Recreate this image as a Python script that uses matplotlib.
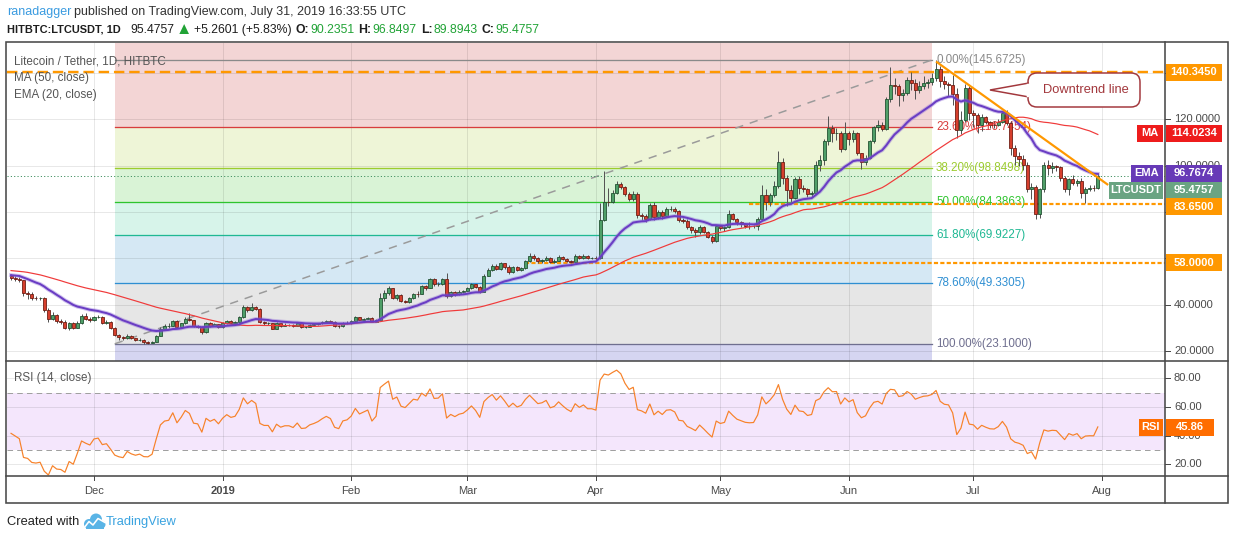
import numpy as np
import pandas as pd
import matplotlib
matplotlib.use("Agg")
import matplotlib.pyplot as plt
from matplotlib import font_manager
from matplotlib.patches import Rectangle, FancyBboxPatch, Polygon, Circle
from matplotlib.lines import Line2D
from matplotlib.transforms import IdentityTransform

# ---------------- data (LTC/USDT daily) ----------------
# closes before the visible window, only used to warm up MA50 / EMA20 / RSI14
warmup_close = [59.5, 58.8, 57.2, 56.4, 57.5, 60.2, 61.2, 60.6, 61.5,
                60.5, 59.8, 58.5, 58.9, 58.3, 57.6, 57.9, 59.0, 58.1, 57.8,
                52.3, 52.5, 52.8, 52.6, 54.2, 53.9, 52.7, 52.0, 51.8, 52.3,
                52.1, 51.9, 52.2, 52.3, 51.6, 51.8, 51.5, 51.6, 49.9, 50.5, 51.2,
                51.6, 52.5, 51.9, 54.6, 54.3, 54.5, 54.8, 52.1, 51.9, 52.6]

nov_c = [51.5, 51.0, 50.5, 45.2, 44.8, 43.0, 42.7, 42.8, 37.6, 34.0, 35.5, 32.9, 32.5, 30.0, 31.9, 30.0, 32.2, 35.0, 34.0, 33.2]
nov_h = [53.2, 52.3, 51.8, 50.8, 46.0, 45.5, 43.8, 43.5, 43.2, 38.5, 37.0, 36.0, 33.8, 33.5, 32.5, 32.5, 33.0, 35.8, 36.2, 34.6]
nov_l = [50.8, 50.4, 49.6, 43.6, 42.5, 42.1, 41.9, 42.0, 37.0, 32.5, 33.2, 32.0, 31.6, 29.6, 29.0, 29.4, 29.8, 31.8, 33.2, 32.6]

dec_c = [34.6, 34.8, 32.2, 32.4, 30.0, 26.9, 25.9, 25.4, 26.6, 25.4, 24.7, 24.9, 23.7, 23.6, 24.0, 26.6, 29.7, 30.7, 30.9, 32.9,
         30.4, 31.9, 34.0, 33.3, 30.7, 30.5, 28.0, 31.9, 31.0, 31.6, 30.3]
dec_h = [35.2, 35.6, 35.0, 33.2, 32.8, 30.5, 27.2, 26.4, 27.2, 27.0, 25.8, 25.5, 25.2, 24.2, 24.5, 27.0, 30.3, 31.8, 32.0, 33.6,
         33.4, 32.3, 34.6, 36.3, 33.5, 31.2, 30.8, 32.4, 32.4, 32.0, 31.8]
dec_l = [33.0, 34.2, 31.8, 31.8, 29.6, 26.3, 24.6, 24.8, 25.2, 25.0, 24.3, 24.2, 23.2, 23.1, 23.4, 23.8, 26.3, 29.3, 30.0, 30.6,
         30.0, 30.1, 31.6, 33.0, 30.2, 29.8, 27.5, 27.8, 30.4, 30.8, 29.8]

jan_c = [31.9, 33.0, 32.3, 32.6, 34.6, 39.0, 37.6, 39.0, 38.3, 32.6, 31.9, 31.9, 29.7, 31.9, 30.9, 31.3, 31.3, 30.8, 31.9, 30.4,
         30.5, 31.2, 31.5, 31.9, 32.5, 33.0, 32.6, 30.9, 30.6, 32.0, 32.2]
jan_h = [32.4, 33.6, 33.4, 33.0, 35.3, 40.0, 39.6, 40.7, 39.6, 38.6, 33.0, 32.4, 32.2, 32.4, 32.2, 31.9, 31.8, 31.6, 32.2, 32.2,
         31.0, 31.8, 32.0, 32.3, 32.9, 33.6, 33.4, 32.8, 31.3, 32.4, 32.8]
jan_l = [29.9, 31.5, 31.8, 31.9, 32.3, 34.4, 37.0, 37.3, 37.8, 32.0, 31.2, 31.4, 29.4, 29.7, 30.5, 30.6, 30.7, 30.4, 30.6, 30.0,
         30.1, 30.2, 31.0, 31.3, 31.6, 32.1, 32.1, 30.5, 30.1, 30.4, 31.8]

feb_c = [32.9, 34.5, 33.6, 34.0, 34.4, 32.6, 33.5, 43.0, 45.0, 47.0, 42.9, 44.0, 41.6, 41.2, 42.9, 44.8, 44.6, 47.9, 47.2, 51.2,
         48.8, 49.0, 51.2, 43.7, 45.3, 44.5, 45.5, 45.9]
feb_h = [33.3, 35.0, 34.6, 34.4, 34.8, 34.5, 33.9, 45.1, 46.5, 48.0, 47.2, 44.5, 44.4, 42.1, 43.4, 45.2, 45.7, 48.6, 48.5, 51.7,
         51.4, 50.0, 51.6, 53.6, 45.9, 45.8, 46.3, 46.2]
feb_l = [31.8, 32.7, 33.3, 33.3, 33.9, 32.4, 32.5, 33.2, 41.4, 44.2, 42.5, 42.2, 41.1, 40.6, 40.8, 42.6, 43.5, 44.4, 46.5, 47.0,
         47.9, 47.9, 48.6, 42.8, 43.4, 43.8, 44.0, 45.0]

mar_c = [47.2, 48.9, 47.6, 45.5, 52.6, 55.0, 56.9, 55.2, 57.8, 56.2, 54.3, 56.2, 55.0, 55.8, 58.8, 61.2, 60.0, 58.8, 59.2, 60.3,
         58.3, 58.9, 60.8, 59.8, 58.9, 58.3, 61.2, 60.3, 61.2, 60.3, 60.3]
mar_h = [47.6, 49.5, 49.1, 48.0, 53.3, 55.7, 57.5, 57.6, 58.4, 58.1, 57.0, 56.8, 56.5, 56.3, 59.2, 62.4, 61.7, 60.4, 59.8, 61.1,
         60.6, 59.6, 61.5, 61.0, 60.1, 59.2, 61.8, 61.6, 61.7, 61.3, 60.8]
mar_l = [45.7, 46.8, 47.1, 45.1, 45.3, 52.2, 54.6, 54.8, 54.9, 55.5, 53.4, 53.6, 54.6, 54.5, 55.6, 58.5, 59.5, 58.0, 58.2, 58.8,
         57.8, 58.1, 58.7, 59.3, 58.4, 57.9, 58.1, 59.7, 59.9, 59.9, 59.9]

apr_c = [60.0, 76.7, 84.5, 84.2, 88.1, 92.0, 90.9, 87.9, 85.8, 87.8, 78.7, 78.1, 77.0, 83.1, 77.7, 80.1, 78.4, 81.2, 81.5, 80.5,
         76.5, 76.2, 73.4, 72.4, 71.2, 73.5, 71.6, 69.4, 67.3, 74.1]
apr_h = [61.0, 84.0, 97.7, 90.5, 89.5, 93.5, 93.0, 91.2, 88.6, 89.0, 88.6, 79.8, 79.2, 83.9, 84.2, 80.8, 81.1, 82.1, 82.4, 82.2,
         81.0, 77.4, 77.0, 73.8, 73.0, 74.2, 73.9, 71.8, 70.2, 74.6]
apr_l = [59.0, 59.8, 76.0, 82.7, 83.9, 87.6, 90.0, 86.9, 84.8, 84.7, 77.3, 76.6, 75.9, 76.4, 76.6, 77.2, 77.2, 78.0, 80.5, 79.6,
         75.9, 75.2, 72.6, 71.0, 69.3, 70.5, 71.0, 68.9, 66.5, 67.2]

may_c = [72.9, 73.4, 79.1, 77.2, 75.5, 74.8, 74.1, 73.9, 74.0, 77.0, 87.2, 84.5, 87.2, 91.2, 101.5, 94.8, 89.4, 86.2, 94.1, 90.5,
         90.1, 87.7, 88.4, 100.3, 102.4, 110.6, 116.3, 114.1, 114.3, 107.3, 114.0]
may_h = [74.6, 73.8, 80.9, 79.8, 77.5, 76.3, 75.2, 75.5, 74.6, 77.8, 91.5, 89.8, 88.1, 93.5, 106.5, 103.3, 96.1, 91.5, 95.2, 95.6,
         91.6, 90.5, 89.3, 102.0, 104.8, 111.4, 121.3, 117.8, 116.1, 114.9, 119.0]
may_l = [72.3, 72.0, 73.0, 76.4, 74.2, 73.4, 73.0, 72.8, 73.1, 72.3, 76.5, 81.0, 82.5, 86.6, 90.5, 92.1, 82.7, 84.2, 85.8, 87.9,
         88.6, 86.4, 86.6, 87.9, 97.9, 100.2, 108.8, 110.2, 111.0, 106.0, 106.6]

jun_c = [111.6, 114.0, 105.6, 101.8, 103.4, 110.6, 116.6, 117.7, 116.0, 128.7, 134.9, 134.6, 130.6, 131.6, 137.0, 135.6, 132.7,
         134.5, 135.9, 136.3, 137.7, 141.8, 136.7, 135.2, 134.9, 130.9, 115.6, 119.9, 133.4, 122.7]
jun_h = [114.8, 115.3, 114.5, 105.7, 104.8, 111.2, 117.3, 119.8, 118.8, 129.5, 142.7, 137.8, 135.4, 133.2, 138.2, 140.3, 137.3,
         136.6, 138.6, 137.6, 140.0, 145.6725, 142.9, 138.9, 136.3, 139.0, 133.6, 123.6, 135.2, 134.5]
jun_l = [109.0, 110.2, 104.8, 98.5, 100.3, 102.8, 110.0, 115.0, 114.8, 115.5, 127.6, 130.8, 125.6, 128.0, 130.6, 132.5, 129.0,
         131.4, 133.0, 133.4, 134.8, 136.5, 134.2, 133.0, 130.0, 126.4, 112.0, 113.8, 119.0, 119.7]

jul_c = [122.0, 117.7, 120.9, 119.1, 117.7, 117.5, 119.1, 122.7, 118.4, 107.7, 104.0, 102.7, 100.5, 89.8, 90.8, 79.1, 89.8,
         100.5, 99.1, 99.8, 99.5, 94.8, 89.8, 94.1, 92.4, 93.5, 88.4, 90.1, 90.3, 90.2351, 95.4757]
jul_h = [124.0, 122.6, 122.2, 121.5, 119.5, 119.2, 120.2, 123.4, 124.0, 119.5, 108.8, 105.8, 104.5, 101.4, 92.6, 91.6, 90.6,
         101.8, 102.6, 101.8, 100.5, 99.8, 95.6, 94.6, 95.9, 94.3, 94.8, 90.9, 91.7, 91.6, 96.8497]
jul_l = [116.8, 114.3, 115.2, 118.0, 116.3, 116.4, 117.0, 118.3, 117.4, 104.6, 100.2, 99.8, 98.2, 88.6, 85.7, 77.0, 77.5,
         88.8, 96.0, 97.0, 97.8, 93.4, 88.6, 87.2, 91.6, 91.2, 86.0, 84.1, 89.2, 88.9, 89.8943]

first_day = "2018-11-11"
last_day = "2019-07-31"

# drawings on the chart
fib_high, fib_low = 145.6725, 23.1
fib_start, fib_end = "2018-12-06", "2019-06-21"
fib_levels = [0.0, 0.236, 0.382, 0.5, 0.618, 0.786, 1.0]
hline_top = 140.345
support_1, support_1_from = 83.65, "2019-05-08"
support_2, support_2_from = 58.0, "2019-03-15"
trend_dates = ["2019-06-22", "2019-08-02 12:00"]
trend_prices = [145.0, 91.7]
ma_last, ema_last = 114.0234, 96.7674
rsi_last = 45.86

months = ["2018-12-01", "2019-01-01", "2019-02-01", "2019-03-01", "2019-04-01",
          "2019-05-01", "2019-06-01", "2019-07-01", "2019-08-01"]
month_labels = ["Dec", "2019", "Feb", "Mar", "Apr", "May", "Jun", "Jul", "Aug"]
price_ticks = [20, 40, 60, 80, 100, 120, 140]
price_tick_labels = ["20.0000", "40.0000", "", "80.0000", "100.0000", "120.0000", ""]  # 60/140 hidden by tags
rsi_ticks = [20, 40, 60, 80]

# ---------------- series ----------------
close_vis = nov_c + dec_c + jan_c + feb_c + mar_c + apr_c + may_c + jun_c + jul_c
high_vis = nov_h + dec_h + jan_h + feb_h + mar_h + apr_h + may_h + jun_h + jul_h
low_vis = nov_l + dec_l + jan_l + feb_l + mar_l + apr_l + may_l + jun_l + jul_l
dates = pd.date_range(first_day, last_day, freq="D")
n = len(dates)
assert len(close_vis) == n and len(high_vis) == n and len(low_vis) == n

s = pd.Series(warmup_close + close_vis, dtype=float)
ma50 = s.rolling(50).mean().values[-n:]
ema20 = s.ewm(span=20, adjust=False).mean().values[-n:]
delta = s.diff()
gain = delta.clip(lower=0).ewm(alpha=1 / 14, adjust=False).mean()
loss = (-delta.clip(upper=0)).ewm(alpha=1 / 14, adjust=False).mean()
rsi = (100 - 100 / (1 + gain / loss)).values[-n:]

c = np.array(close_vis)
o = s.shift(1).values[-n:]
hi = np.maximum(np.array(high_vis), np.maximum(o, c))
lo = np.minimum(np.array(low_vis), np.minimum(o, c))

origin = pd.Timestamp("2018-12-01")
def dnum(t):
    return (pd.Timestamp(t) - origin) / pd.Timedelta(days=1)
x = np.array([dnum(t) for t in dates])

# ---------------- fonts ----------------
names = {f.name for f in font_manager.fontManager.ttflist}
if "Liberation Sans Narrow" in names:
    FAM, K = ["Liberation Sans Narrow", "DejaVu Sans"], 1.0
else:
    FAM, K = ["Liberation Sans", "DejaVu Sans"], 0.84
plt.rcParams["font.family"] = FAM
plt.rcParams["lines.scale_dashes"] = False

W, H = 1234, 540
fig = plt.figure(figsize=(W / 100, H / 100), dpi=100)
fig.patch.set_facecolor("white")

def axes_px(x0, y0, x1, y1):
    return fig.add_axes([x0 / W, 1 - y1 / H, (x1 - x0) / W, (y1 - y0) / H])

PX = 0.72  # points per pixel
XL = ((7 - 94) / 4.148, (1165 - 94) / 4.148)

ax = axes_px(7, 43, 1165, 361)
rx = axes_px(7, 361, 1165, 476)
for a in (ax, rx):
    a.set_xlim(*XL)
    a.set_xticks([dnum(m) for m in months])
    a.tick_params(length=0, labelbottom=False, labelleft=False)
    a.grid(True, color="black", alpha=0.09, lw=1 * PX)
    a.set_axisbelow(True)
    for sp in a.spines.values():
        sp.set_visible(False)
ax.set_ylim(15.68, 153.0)
ax.set_yticks(price_ticks)
rx.set_ylim(11.8, 92.1)
rx.set_yticks(rsi_ticks)

# ---------------- fibonacci retracement ----------------
fx0, fx1 = dnum(fib_start), dnum(fib_end)
fib_price = [fib_high - l * (fib_high - fib_low) for l in fib_levels]
fib_line_col = ["#8a8a8a", "#d83c3c", "#9ccc2e", "#2ec42e", "#1fb893", "#2f8fd2", "#6f6f8f"]
fib_fill_col = ["#f3d5d5", "#eef5d7", "#d9f3d6", "#d7f4ea", "#d5e8f4", "#e6e6e6"]
ax.fill_between([fx0, fx1], fib_price[0], 300, color="#f3d5d5", lw=0, zorder=0.2)
for i in range(len(fib_levels) - 1):
    ax.fill_between([fx0, fx1], fib_price[i + 1], fib_price[i], color=fib_fill_col[i], lw=0, zorder=0.2)
ax.fill_between([fx0, fx1], -50, fib_low, color="#d5d5f1", lw=0, zorder=0.2)
for lvl, p, col in zip(fib_levels, fib_price, fib_line_col):
    ax.plot([fx0, fx1], [p, p], color=col, lw=1.3 * PX, zorder=1)
    ax.text(fx1 + 1.0, p, "%.2f%%(%.4f)" % (lvl * 100, round(p + 1e-9, 4)), color=col,
            fontsize=10 * K, va="center", ha="left", zorder=1.2)
ax.plot([fx0, fx1], [fib_low, fib_high], color="#9a9a9a", lw=1.5 * PX, dashes=(6, 5), zorder=1.1)

# ---------------- horizontal levels / trend line ----------------
ax.plot(XL, [hline_top, hline_top], color="#ff9800", lw=2.4 * PX, dashes=(7.5, 3.5), zorder=2.5)
ax.plot([dnum(support_1_from), XL[1]], [support_1, support_1], color="#ff9800", lw=2.2 * PX,
        dashes=(3, 1.6), zorder=2.5)
ax.plot([dnum(support_2_from), XL[1]], [support_2, support_2], color="#ff9800", lw=2.2 * PX,
        dashes=(3, 1.6), zorder=2.5)
ax.plot(XL, [c[-1], c[-1]], color="#3f8f5f", lw=1 * PX, dashes=(0.8, 1.6), zorder=2.4)
ax.plot([dnum(t) for t in trend_dates], trend_prices, color="#ff9800", lw=2.2 * PX, zorder=5,
        solid_capstyle="butt")

# ---------------- candles & averages ----------------
up = c >= o
ax.vlines(x, lo, hi, color="#555555", lw=1 * PX, zorder=3)
ax.bar(x[up], (c - o)[up], bottom=o[up], width=0.74, color="#4f9f68", edgecolor="#1e4d2e",
       lw=0.8 * PX, zorder=3.5)
ax.bar(x[~up], (c - o)[~up], bottom=o[~up], width=0.74, color="#d63f2d", edgecolor="#6a1a10",
       lw=0.8 * PX, zorder=3.5)
ax.plot(x, ma50, color="#f03a3a", lw=1.2 * PX, zorder=4)
ax.plot(x, ema20, color="#8c6ad6", lw=4.0 * PX, alpha=0.4, zorder=4.4)
ax.plot(x, ema20, color="#6a3dc4", lw=2.0 * PX, zorder=4.5)

# ---------------- RSI ----------------
rx.axhspan(30, 70, color="#f4e6fc", lw=0, zorder=0.2)
for v in (30, 70):
    rx.plot(XL, [v, v], color="#a0a0a0", lw=1 * PX, dashes=(4, 3), zorder=1)
rx.plot(x, rsi, color="#f7822a", lw=1.2 * PX, zorder=3)

# ---------------- helpers in pixel space ----------------
def ypx(axis, v):
    return H - axis.transData.transform((0, v))[1]

def xpx(axis, v):
    return axis.transData.transform((v, 0))[0]

def prect(x0, y0, x1, y1, **kw):
    fig.add_artist(Rectangle((x0, H - y1), x1 - x0, y1 - y0, transform=IdentityTransform(), **kw))

def pline(xs, ys, **kw):
    fig.add_artist(Line2D(xs, [H - y for y in ys], transform=IdentityTransform(), **kw))

def ptext(x0, y0, txt, **kw):
    return fig.text(x0 / W, 1 - y0 / H, txt, **kw)

def tag(x0, x1, yc, txt, col, h=17, fs=9.5):
    prect(x0, yc - h / 2, x1, yc + h / 2, fc=col, ec="none", zorder=6)
    ptext((x0 + x1) / 2, yc, txt, color="white", fontsize=fs * K, fontweight="bold",
          ha="center", va="center", zorder=7)

def seq(x0, y0, parts, fs):
    r = fig.canvas.get_renderer()
    for txt, col, wt, gap, scale in parts:
        t = ptext(x0, y0, txt, color=col, fontweight=wt, fontsize=fs * K * scale, ha="left", va="center")
        x0 += t.get_window_extent(renderer=r).width + gap

# frame and separators
prect(6, 42, 1228, 503, fc="none", ec="#4a4a4a", lw=1.6 * PX, zorder=8)
pline([6, 1228], [361, 361], color="#4a4a4a", lw=1.6 * PX, zorder=8)
pline([6, 1228], [476, 476], color="#4a4a4a", lw=1.6 * PX, zorder=8)
pline([1165, 1165], [42, 503], color="#4a4a4a", lw=1.6 * PX, zorder=8)

# price scale
for p, lab in zip(price_ticks, price_tick_labels):
    yy = ypx(ax, p)
    pline([1165, 1170], [yy, yy], color="#4a4a4a", lw=1 * PX, zorder=4)
    if lab:
        ptext(1174, yy, lab, color="#4a4a4a", fontsize=9.5 * K, va="center", ha="left", zorder=4)
for p in rsi_ticks:
    yy = ypx(rx, p)
    pline([1165, 1170], [yy, yy], color="#4a4a4a", lw=1 * PX, zorder=4)
    ptext(1174, yy, "%.2f" % p, color="#4a4a4a", fontsize=9.5 * K, va="center", ha="left", zorder=4)

# time scale
for m, lab in zip(months, month_labels):
    xx = xpx(rx, dnum(m))
    pline([xx, xx], [476, 480], color="#4a4a4a", lw=1 * PX, zorder=4)
    ptext(xx, 491, lab, color="#4a4a4a", fontsize=9.5 * K, ha="center", va="center",
          fontweight="bold" if lab == "2019" else "normal")

# price-scale tags
tag(1166, 1222, ypx(ax, hline_top), "%.4f" % hline_top, "#ff9800")
tag(1137, 1163, ypx(ax, ma_last), "MA", "#ee1c1c")
tag(1166, 1222, ypx(ax, ma_last), "%.4f" % ma_last, "#ee1c1c")
tag(1131, 1163, ypx(ax, ema_last), "EMA", "#673ab7")
tag(1166, 1222, ypx(ax, ema_last), "%.4f" % ema_last, "#673ab7")
tag(1109, 1163, ypx(ax, c[-1]) + 14, "LTCUSDT", "#6aa482")
tag(1166, 1222, ypx(ax, c[-1]) + 14, "%.4f" % c[-1], "#6aa482")
tag(1166, 1222, ypx(ax, support_1) + 3, "%.4f" % support_1, "#ff9800")
tag(1166, 1222, ypx(ax, support_2), "%.4f" % support_2, "#ff9800")
tag(1139, 1163, ypx(rx, rsi_last), "RSI", "#ff6d00")
tag(1166, 1214, ypx(rx, rsi_last), "%.2f" % rsi_last, "#ff6d00")

# pane legends
ptext(14, 61, "Litecoin / Tether, 1D, HITBTC", color="#555555", fontsize=10 * K, va="center")
ptext(14, 78, "MA (50, close)", color="#555555", fontsize=10 * K, va="center")
ptext(14, 95, "EMA (20, close)", color="#555555", fontsize=10 * K, va="center")
ptext(14, 378, "RSI (14, close)", color="#555555", fontsize=10 * K, va="center")

# callout
fig.add_artist(FancyBboxPatch((1028, H - 107), 112, 34, boxstyle="round,pad=0,rounding_size=9",
                              transform=IdentityTransform(), fc="white", ec="#a2373c", lw=1.5 * PX, zorder=9))
fig.add_artist(Polygon([(1029, H - 83), (990, H - 90), (1029, H - 97)], closed=False,
                       transform=IdentityTransform(), fc="white", ec="#a2373c", lw=1.5 * PX, zorder=9.5))
pline([1028, 1028], [84.5, 95.5], color="white", lw=2.5 * PX, zorder=9.6)
ptext(1086, 90, "Downtrend line", color="#a2373c", fontsize=11 * K, ha="center", va="center", zorder=10)

# header
seq(7, 12, [("ranadagger", "#3a9be0", "normal", 3, 1.0),
            ("published on TradingView.com, July 31, 2019 16:33:55 UTC", "#333333", "normal", 0, 1.0)], 10.7)
green = "#21a336"
seq(7, 30, [("HITBTC:LTCUSDT, 1D", "#1e1e1e", "bold", 10, 0.9),
            ("95.4757", "#1e1e1e", "normal", 1, 1.0),
            ("\u25B2", green, "normal", 2, 1.35),
            ("+5.2601 (+5.83%)", "#1e1e1e", "normal", 4, 1.0),
            ("O:", "#1e1e1e", "bold", 1, 1.0), ("90.2351", green, "normal", 4, 1.0),
            ("H:", "#1e1e1e", "bold", 1, 1.0), ("96.8497", green, "normal", 4, 1.0),
            ("L:", "#1e1e1e", "bold", 1, 1.0), ("89.8943", green, "normal", 4, 1.0),
            ("C:", "#1e1e1e", "bold", 1, 1.0), ("95.4757", green, "normal", 0, 1.0)], 10.5)

# footer with a small logo
ptext(7, 522, "Created with", color="#222222", fontsize=11 * K, va="center")
for cx, cy, r in [(89, 524, 5.0), (96, 519.5, 6.0), (101.5, 524.5, 4.0)]:
    fig.add_artist(Circle((cx, H - cy), r, transform=IdentityTransform(), fc="#5ab4e6", ec="none", zorder=5))
prect(86, 523, 104, 529, fc="#5ab4e6", ec="none", zorder=5)
pline([84, 89, 93, 98, 105], [528, 521.5, 525, 518.5, 522.5], color="white", lw=1.6 * PX, zorder=6)
ptext(106, 522, "TradingView", color="#3aa3e0", fontsize=11 * K, va="center")

fig.savefig("out.png", dpi=100, facecolor="white")
